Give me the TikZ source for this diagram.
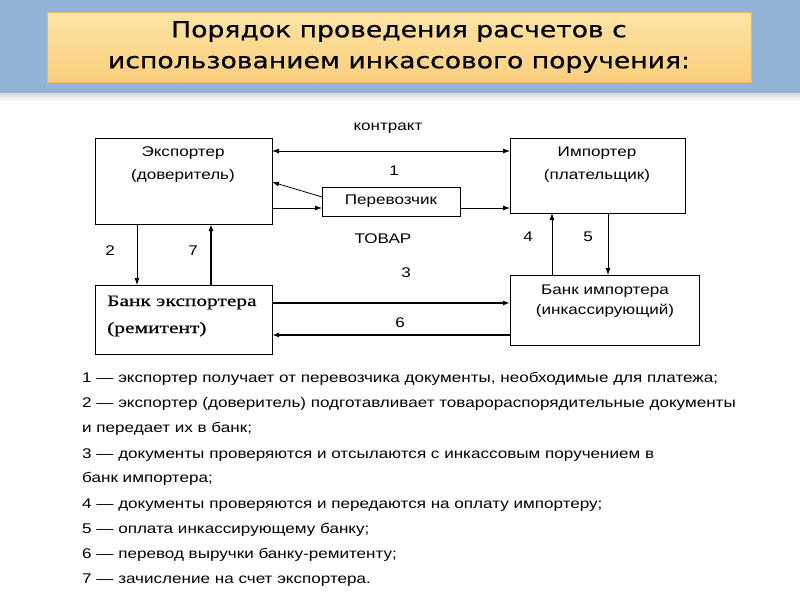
\documentclass[tikz,border=0pt]{standalone}
\usepackage{fontspec}
\setmainfont{Liberation Sans}
\newfontfamily\dgf[FakeStretch=1.22]{Liberation Sans}
\newfontfamily\serifb[FakeStretch=1.34,FakeBold=0.6]{Liberation Serif}
\newfontfamily\titlef[FakeStretch=1.21,FakeBold=0.6]{DejaVu Sans}
\newfontfamily\legf[FakeStretch=1.22]{Liberation Sans}
\usetikzlibrary{arrows.meta}
\definecolor{band}{RGB}{148,179,217}
\definecolor{boxtop}{RGB}{253,228,165}
\definecolor{boxbot}{RGB}{250,207,125}
\definecolor{boxedge}{RGB}{235,185,90}
\tikzset{
  blk/.style={draw=black, line width=0.8pt, fill=white},
  lbl/.style={font=\dgf\fontsize{14}{16}\selectfont, inner sep=0pt},
  arr/.style={-{Latex[length=7pt,width=5pt]}, line width=0.8pt},
  arrb/.style={-{Latex[length=7pt,width=5pt]}, line width=1.6pt},
  dbl/.style={{Latex[length=7pt,width=5pt]}-{Latex[length=7pt,width=5pt]}, line width=0.8pt},
  leg/.style={anchor=west, inner sep=0pt, font=\legf\fontsize{14}{16}\selectfont}
}
\begin{document}
\begin{tikzpicture}[x=1pt,y=-1pt]
\useasboundingbox (0,0) rectangle (800,600);
\fill[white] (0,0) rectangle (800,600);
% top band
\fill[band] (0,0) rectangle (800,93);
\shade[top color=black!15, bottom color=white] (0,93) rectangle (800,101);
% title box
\shade[top color=boxtop, bottom color=boxbot, draw=boxedge, line width=0.8pt] (47,12) rectangle (751,82);
\node[font=\titlef\fontsize{22}{31}\selectfont, align=center, inner sep=0pt] (title) at (399,47)
  {Порядок проведения расчетов с\\использованием инкассового поручения:};

% boxes
\node[blk, minimum width=177pt, minimum height=86pt, anchor=north west] (exp) at (95,138) {};
\node[lbl, align=center] (expt) at (183,165) {Экспортер\\[7pt](доверитель)};
\node[blk, minimum width=175pt, minimum height=75pt, anchor=north west] (imp) at (510,138) {};
\node[lbl, align=center] (impt) at (597,165) {Импортер\\[7pt](плательщик)};
\node[blk, minimum width=138pt, minimum height=29pt, anchor=north west] (car) at (322,187) {};
\node[lbl] (cart) at (391,201.5) {Перевозчик};
\node[blk, minimum width=177pt, minimum height=69pt, anchor=north west] (bex) at (95,285) {};
\node[font=\serifb\fontsize{16}{18}\selectfont, align=left, anchor=west, inner sep=0pt] (bext) at (107,316) {Банк экспортера\\[9pt](ремитент)};
\node[blk, minimum width=189pt, minimum height=70pt, anchor=north west] (bim) at (510,275) {};
\node[lbl, align=center] (bimt) at (605,301) {Банк импортера\\[4pt](инкассирующий)};

% coordinates
\coordinate (e1) at (272,151); \coordinate (i1) at (510,151);
\coordinate (e2) at (272,182); \coordinate (c2) at (322,197);
\coordinate (e3) at (272,208); \coordinate (c3) at (322,208);
\coordinate (c4) at (460,208); \coordinate (i4) at (510,208);
\coordinate (eb2) at (137,224); \coordinate (bt2) at (137,285);
\coordinate (eb7) at (211,224); \coordinate (bt7) at (211,285);
\coordinate (ib4) at (552,213); \coordinate (bt4) at (552,275);
\coordinate (ib5) at (608,213); \coordinate (bt5) at (608,275);
\coordinate (br3) at (272,303); \coordinate (bl3) at (510,303);
\coordinate (br6) at (272,335); \coordinate (bl6) at (510,335);

\draw[dbl] (e1) -- (i1);
\draw[arr] (c2) -- (e2);
\draw[arr] (e3) -- (c3);
\draw[arr] (c4) -- (i4);
\draw[arr] (eb2) -- (bt2);
\draw[arrb] (bt7) -- (eb7);
\draw[arr] (bt4) -- (ib4);
\draw[arr] (ib5) -- (bt5);
\draw[arrb] (br3) -- (bl3);
\draw[arrb] (bl6) -- (br6);

% labels
\node[lbl] (lk) at (388,128) {контракт};
\node[lbl] (l1) at (394,171) {1};
\node[lbl] (lt) at (383,239) {ТОВАР};
\node[lbl] (l2) at (110,251) {2};
\node[lbl] (l7) at (193,251) {7};
\node[lbl] (l4) at (528,237) {4};
\node[lbl] (l5) at (588,237) {5};
\node[lbl] (l3) at (406,273) {3};
\node[lbl] (l6) at (400,323) {6};

% legend
\node[leg] (g1) at (82,379) {1 — экспортер получает от перевозчика документы, необходимые для платежа;};
\node[leg] (g2) at (82,404) {2 — экспортер (доверитель) подготавливает товарораспорядительные документы};
\node[leg] (g2b) at (82,429) {и передает их в банк;};
\node[leg] (g3) at (82,455) {3 — документы проверяются и отсылаются с инкассовым поручением в};
\node[leg] (g3b) at (82,479) {банк импортера;};
\node[leg] (g4) at (82,505) {4 — документы проверяются и передаются на оплату импортеру;};
\node[leg] (g5) at (82,530) {5 — оплата инкассирующему банку;};
\node[leg] (g6) at (82,555) {6 — перевод выручки банку-ремитенту;};
\node[leg] (g7) at (82,580) {7 — зачисление на счет экспортера.};
\end{tikzpicture}
\end{document}
